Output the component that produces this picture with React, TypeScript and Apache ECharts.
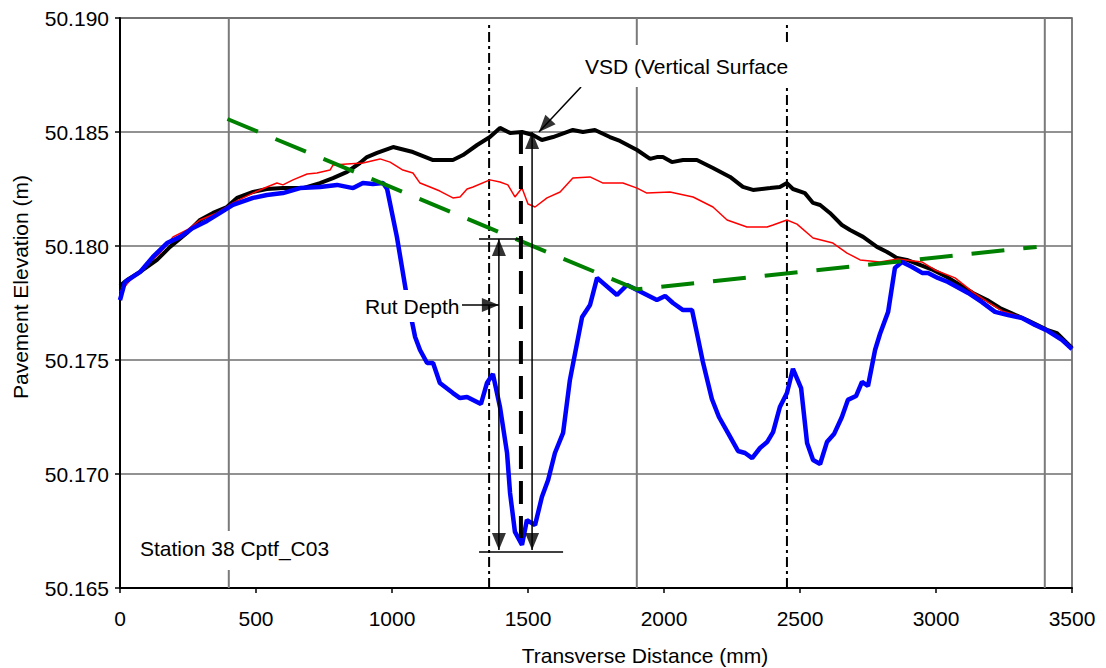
import React, { useEffect, useRef } from "react";
import * as echarts from "echarts";

// ---- Axes ----
const X_MIN = 0;
const X_MAX = 3500;
const X_STEP = 500;
const Y_MIN = 50.165;
const Y_MAX = 50.19;
const Y_STEP = 0.005;

// vertical reference gridlines (mm)
const refGridX = [400, 1900, 3400];
// dash-dot wheel-path boundaries (mm)
const dashDotX = [1357, 2452];
const dashDotTop = 50.18969;

// ---- Profiles ----
const blackX = [0, 26, 74, 136, 184, 246, 294, 342, 393, 430, 489, 540, 599, 673, 735, 783, 835, 882, 908, 945, 1004, 1077, 1151, 1224, 1261, 1313, 1360, 1397, 1434, 1478, 1518, 1551, 1592, 1665, 1702, 1746, 1801, 1838, 1901, 1949, 1974, 1996, 2029, 2070, 2121, 2180, 2243, 2290, 2327, 2390, 2426, 2452, 2474, 2518, 2548, 2574, 2610, 2654, 2684, 2732, 2783, 2820, 2857, 2893, 2941, 2989, 3040, 3088, 3136, 3188, 3235, 3283, 3335, 3371, 3408, 3445, 3500];
const blackY = [50.17825, 50.17851, 50.17886, 50.17939, 50.17996, 50.18057, 50.18114, 50.18145, 50.18171, 50.18211, 50.18237, 50.1825, 50.18254, 50.18254, 50.18276, 50.18298, 50.18325, 50.18364, 50.1839, 50.18408, 50.18434, 50.18412, 50.18377, 50.18377, 50.18399, 50.18443, 50.18478, 50.18518, 50.18496, 50.185, 50.18487, 50.18465, 50.18478, 50.18509, 50.185, 50.18509, 50.18478, 50.18461, 50.18421, 50.18382, 50.1839, 50.1839, 50.18368, 50.18377, 50.18377, 50.18342, 50.18303, 50.18259, 50.18246, 50.18254, 50.18259, 50.18276, 50.1825, 50.18232, 50.18189, 50.1818, 50.18145, 50.18092, 50.1807, 50.1804, 50.17996, 50.17974, 50.17947, 50.17939, 50.17917, 50.17895, 50.17864, 50.17829, 50.17794, 50.17763, 50.17728, 50.17702, 50.17675, 50.17654, 50.17632, 50.17618, 50.17553];

const redX = [0, 48, 147, 195, 246, 294, 357, 415, 489, 540, 577, 599, 636, 688, 724, 772, 783, 835, 893, 956, 993, 1040, 1077, 1103, 1140, 1176, 1224, 1250, 1276, 1298, 1360, 1397, 1426, 1452, 1478, 1500, 1526, 1570, 1618, 1665, 1728, 1776, 1849, 1901, 1937, 2022, 2107, 2180, 2232, 2305, 2379, 2401, 2452, 2489, 2548, 2621, 2673, 2721, 2794, 2860, 2948, 2996, 3070, 3136, 3191, 3243, 3316, 3375, 3438, 3500];
const redY = [50.17798, 50.17864, 50.17969, 50.1804, 50.1807, 50.18114, 50.18145, 50.18189, 50.18232, 50.18259, 50.18276, 50.18268, 50.1829, 50.18316, 50.1832, 50.18333, 50.18355, 50.1836, 50.18364, 50.18382, 50.18368, 50.18333, 50.1832, 50.18276, 50.18259, 50.18241, 50.18211, 50.18215, 50.1825, 50.18259, 50.1829, 50.18281, 50.18268, 50.18215, 50.18254, 50.18184, 50.18171, 50.18211, 50.18237, 50.18298, 50.18303, 50.18276, 50.18276, 50.18254, 50.18232, 50.18237, 50.18215, 50.18171, 50.18114, 50.18083, 50.18083, 50.18092, 50.18114, 50.18096, 50.18035, 50.18013, 50.17969, 50.17939, 50.1793, 50.17943, 50.1793, 50.17895, 50.1786, 50.17798, 50.17754, 50.17715, 50.17689, 50.17649, 50.1761, 50.17557];

const blueX = [0, 18, 74, 121, 173, 221, 268, 320, 368, 415, 489, 540, 599, 662, 735, 798, 857, 893, 930, 967, 982, 1018, 1055, 1085, 1103, 1129, 1151, 1176, 1224, 1250, 1276, 1327, 1349, 1371, 1397, 1423, 1434, 1452, 1478, 1496, 1526, 1551, 1574, 1599, 1629, 1654, 1699, 1728, 1754, 1827, 1864, 1901, 1974, 2004, 2033, 2070, 2103, 2121, 2143, 2176, 2202, 2235, 2272, 2298, 2324, 2353, 2379, 2401, 2426, 2452, 2474, 2504, 2526, 2548, 2574, 2599, 2625, 2654, 2676, 2706, 2728, 2750, 2776, 2794, 2824, 2849, 2875, 2912, 2949, 2971, 3007, 3044, 3118, 3169, 3217, 3265, 3316, 3364, 3412, 3463, 3500];
const blueY = [50.17763, 50.17842, 50.17886, 50.17952, 50.18013, 50.1804, 50.18079, 50.1811, 50.18145, 50.1818, 50.18211, 50.18224, 50.18232, 50.18254, 50.18259, 50.18268, 50.18254, 50.18276, 50.18272, 50.18276, 50.1825, 50.1804, 50.17776, 50.17601, 50.17544, 50.17487, 50.17487, 50.17399, 50.17355, 50.17333, 50.17338, 50.17307, 50.17399, 50.17439, 50.17294, 50.17092, 50.16917, 50.16746, 50.16689, 50.16798, 50.16776, 50.16899, 50.16974, 50.17092, 50.1718, 50.17412, 50.17689, 50.17741, 50.1786, 50.17785, 50.17829, 50.17807, 50.17763, 50.17781, 50.1775, 50.17719, 50.17719, 50.17618, 50.17491, 50.17329, 50.1725, 50.1718, 50.17101, 50.17092, 50.1707, 50.17114, 50.1714, 50.17184, 50.17294, 50.17355, 50.17461, 50.17377, 50.17136, 50.17061, 50.17044, 50.1714, 50.17175, 50.1725, 50.17325, 50.17342, 50.17404, 50.17386, 50.17544, 50.17614, 50.17711, 50.17904, 50.1793, 50.17908, 50.17882, 50.17882, 50.1786, 50.17842, 50.17794, 50.17754, 50.17711, 50.17697, 50.17684, 50.17654, 50.17627, 50.17588, 50.17548];

// straight-edge (green dashed) reference line
const edgeX = [395, 1900, 3370];
const edgeY = [50.18557, 50.1781, 50.17996];

// ---- Annotation geometry (data coordinates) ----
const rutX = 1393;
const rutTop = 50.18031;
const rutBottom = 50.16667;
const vsdX = 1515;
const vsdTop = 50.185;
const vsdBottom = 50.16667;
const devX = 1474;
const devTop = 50.18504;
const devBottom = 50.16719;
const topTickX = [1320, 1482];
const topTickY = 50.18031;
const bottomTickX = [1320, 1629];
const bottomTickY = 50.16658;
const rutPointerX = [1250, 1393];
const rutPointerY = 50.17741;
const vsdPointerFrom = [1695, 50.18697];
const vsdPointerTo = [1540, 50.185];

const FONT = "'Liberation Sans', Arial, sans-serif";

const zip = (xs: number[], ys: number[]) => xs.map((x, i) => [x, ys[i]]);

const seg = (data: number[][], color: string, width: number, type: any, z = 3) => ({
  type: "line",
  data,
  showSymbol: false,
  symbol: "none",
  silent: true,
  z,
  lineStyle: { color, width, type },
  emphasis: { disabled: true },
});

export default function App() {
  const ref = useRef<HTMLDivElement>(null);

  useEffect(() => {
    if (!ref.current) return;
    const chart = echarts.init(ref.current, undefined, { renderer: "svg" });

    const AW = 14;
    const AH = 17;
    // VSD pointer direction on screen approx (-42, 45)
    const dx = -42;
    const dy = 45;
    const len = Math.hypot(dx, dy);
    const vsdRot = 90 + (Math.atan2(dy, -dx) * 180) / Math.PI;

    const arrowHeads = [
      { value: [rutX, rutTop], symbolRotate: 0, symbolOffset: [0, AH / 2] },
      { value: [rutX, rutBottom], symbolRotate: 180, symbolOffset: [0, -AH / 2] },
      { value: [vsdX, vsdTop], symbolRotate: 0, symbolOffset: [0, AH / 2] },
      { value: [vsdX, vsdBottom], symbolRotate: 180, symbolOffset: [0, -AH / 2] },
      { value: [rutPointerX[1], rutPointerY], symbolRotate: -90, symbolOffset: [-AH / 2, 0] },
      {
        value: vsdPointerTo,
        symbolRotate: vsdRot,
        symbolOffset: [(-dx / len) * (AH / 2), (-dy / len) * (AH / 2)],
      },
    ];

    const series: any[] = [
      ...refGridX.map((x) => seg([[x, Y_MIN], [x, Y_MAX]], "#7a7a7a", 2, "solid", 1)),
      ...dashDotX.map((x) => seg([[x, Y_MIN], [x, dashDotTop]], "#000", 2, [10, 4, 3, 4], 2)),
      seg(zip(blackX, blackY), "#000000", 4, "solid", 3),
      seg(zip(redX, redY), "#ff0000", 1.5, "solid", 3),
      seg(zip(blueX, blueY), "#0000ff", 4.5, "solid", 3),
      seg(zip(edgeX, edgeY), "#008000", 4, [33, 19], 4),
      seg([[devX, devTop], [devX, devBottom]], "#000", 4, [23, 12], 5),
      seg([[rutX, rutTop], [rutX, rutBottom]], "#000", 1.5, "solid", 5),
      seg([[vsdX, vsdTop], [vsdX, vsdBottom]], "#000", 1.5, "solid", 5),
      seg([[topTickX[0], topTickY], [topTickX[1], topTickY]], "#000", 1.5, "solid", 5),
      seg([[bottomTickX[0], bottomTickY], [bottomTickX[1], bottomTickY]], "#000", 1.5, "solid", 5),
      seg([[rutPointerX[0], rutPointerY], [rutPointerX[1], rutPointerY]], "#000", 1.5, "solid", 7),
      seg([vsdPointerFrom, vsdPointerTo], "#000", 1.5, "solid", 7),
      {
        type: "scatter",
        data: arrowHeads,
        symbol: "triangle",
        symbolSize: [AW, AH],
        itemStyle: { color: "#000" },
        silent: true,
        z: 8,
      },
    ];

    const textStyle = (text: string, size = 21) => ({
      text,
      fill: "#000",
      font: `${size}px ${FONT}`,
    });

    chart.setOption({
      animation: false,
      grid: {
        left: 120,
        right: 34,
        top: 18,
        bottom: 80,
        show: true,
        borderColor: "#555",
        borderWidth: 1.5,
        backgroundColor: "transparent",
      },
      xAxis: {
        type: "value",
        min: X_MIN,
        max: X_MAX,
        interval: X_STEP,
        axisLine: { show: true, lineStyle: { color: "#000", width: 2 } },
        axisTick: { show: true, length: 5, lineStyle: { color: "#000", width: 1.5 } },
        axisLabel: {
          fontSize: 21,
          color: "#000",
          fontFamily: FONT,
          margin: 20,
          formatter: (v: number) => String(Math.round(v)),
        },
        splitLine: { show: false },
      },
      yAxis: {
        type: "value",
        min: Y_MIN,
        max: Y_MAX,
        interval: Y_STEP,
        axisLine: { show: true, lineStyle: { color: "#000", width: 2 } },
        axisTick: { show: true, length: 5, lineStyle: { color: "#000", width: 1.5 } },
        axisLabel: {
          fontSize: 21,
          color: "#000",
          fontFamily: FONT,
          margin: 11,
          formatter: (v: number) => v.toFixed(3),
        },
        splitLine: { show: true, lineStyle: { color: "#6e6e6e", width: 1.5 } },
      },
      series,
      graphic: [
        {
          type: "text",
          x: 20,
          y: 287,
          rotation: Math.PI / 2,
          z: 100,
          style: { ...textStyle("Pavement Elevation (m)"), align: "center", verticalAlign: "middle" },
        },
        {
          type: "text",
          x: 645,
          y: 655,
          z: 100,
          style: { ...textStyle("Transverse Distance (mm)"), align: "center", verticalAlign: "middle" },
        },
        { type: "rect", z: 90, shape: { x: 578, y: 45, width: 222, height: 42 }, style: { fill: "#fff" } },
        {
          type: "text",
          x: 585,
          y: 66,
          z: 100,
          style: { ...textStyle("VSD (Vertical Surface"), align: "left", verticalAlign: "middle" },
        },
        { type: "rect", z: 90, shape: { x: 360, y: 290, width: 102, height: 32 }, style: { fill: "#fff" } },
        {
          type: "text",
          x: 365,
          y: 306,
          z: 100,
          style: { ...textStyle("Rut Depth"), align: "left", verticalAlign: "middle" },
        },
        { type: "rect", z: 90, shape: { x: 134, y: 531, width: 206, height: 39 }, style: { fill: "#fff" } },
        {
          type: "text",
          x: 140,
          y: 548,
          z: 100,
          style: { ...textStyle("Station 38 Cptf_C03"), align: "left", verticalAlign: "middle" },
        },
      ],
    });

    return () => chart.dispose();
  }, []);

  return (
    <div
      ref={ref}
      style={{ position: "absolute", left: 0, top: 0, width: 1106, height: 668, background: "#fff" }}
    />
  );
}
